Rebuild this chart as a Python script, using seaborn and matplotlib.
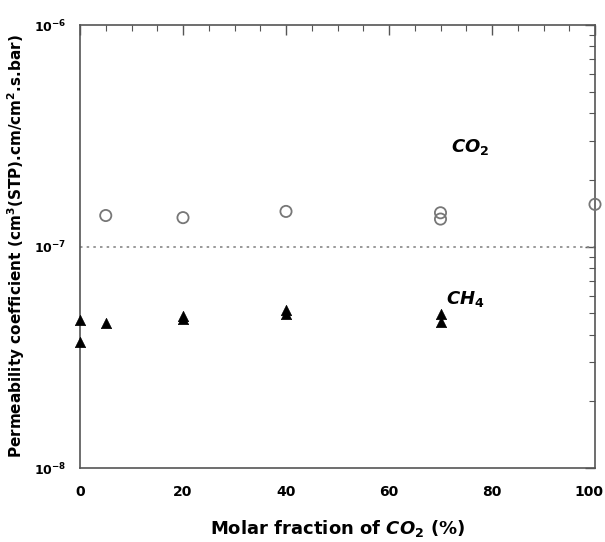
import numpy as np
import pandas as pd
import matplotlib
matplotlib.use("Agg")
import matplotlib.pyplot as plt
import matplotlib.transforms as mtrans
import seaborn as sns
from matplotlib.ticker import LogLocator, MultipleLocator, NullFormatter

co2_x = [5, 20, 40, 70, 70, 100]
co2_y = [1.38e-7, 1.35e-7, 1.44e-7, 1.42e-7, 1.33e-7, 1.55e-7]
ch4_x = [0, 0, 5, 20, 20, 40, 40, 70, 70]
ch4_y = [4.65e-8, 3.7e-8, 4.5e-8, 4.7e-8, 4.85e-8, 5.15e-8, 4.95e-8, 4.95e-8, 4.55e-8]

sns.set_style("white")
plt.rcParams['font.family'] = ['DejaVu Sans']
plt.rcParams['text.color'] = 'black'
plt.rcParams['axes.labelcolor'] = 'black'

fig = plt.figure(figsize=(6.05, 5.42), dpi=100)
ax = fig.add_axes([80 / 605, 1 - 468 / 542, 515 / 605, 443 / 542])

df_co2 = pd.DataFrame({"x": co2_x, "y": co2_y})
df_ch4 = pd.DataFrame({"x": ch4_x, "y": ch4_y})

sns.scatterplot(data=df_co2, x="x", y="y", ax=ax, marker="o", s=65,
                facecolor="none", edgecolor="#777777", linewidth=1.3, zorder=3,
                clip_on=False)
sns.scatterplot(data=df_ch4, x="x", y="y", ax=ax, marker="^", s=55,
                color="black", edgecolor="black", linewidth=0.5, zorder=3,
                clip_on=False)

ax.set_yscale("log")
ax.set_xlim(0, 100)
ax.set_ylim(1e-8, 1e-6)
ax.axhline(1e-7, color="#888888", linestyle=(0, (1.5, 2.5)), linewidth=1.2, zorder=1)

ax.xaxis.set_major_locator(MultipleLocator(20))
ax.xaxis.set_minor_locator(MultipleLocator(5))
ax.yaxis.set_major_locator(LogLocator(base=10, numticks=5))
ax.yaxis.set_minor_locator(LogLocator(base=10, subs=np.arange(2, 10), numticks=20))
ax.yaxis.set_minor_formatter(NullFormatter())

ax.tick_params(which="both", direction="in", top=True, right=True, colors="#555555",
               labelcolor="black")
ax.tick_params(which="major", length=7, width=1)
ax.tick_params(which="minor", length=4, width=0.8)
ax.tick_params(axis="x", which="major", labelsize=10, pad=12)
ax.tick_params(axis="y", which="major", labelsize=9, pad=10)
for lab in ax.get_xticklabels() + ax.get_yticklabels():
    lab.set_fontweight("bold")

fig.canvas.draw()
for lab in ax.get_xticklabels():
    if lab.get_text() == "100":
        lab.set_transform(lab.get_transform() +
                          mtrans.ScaledTranslation(-6 / 100, 0, fig.dpi_scale_trans))

for s in ax.spines.values():
    s.set_color("#555555")
    s.set_linewidth(1.2)

ax.set_xlabel(r"Molar fraction of $\mathbfit{CO}_\mathbf{2}$ (%)", fontsize=13,
              fontweight="bold", labelpad=14)
ax.set_ylabel(r"Permeability coefficient (cm$^{\mathbf{3}}$(STP).cm/cm$^{\mathbf{2}}$.s.bar)",
              fontsize=11, fontweight="bold", labelpad=5)

ax.text(72, 2.8e-7, r"$\mathbfit{CO}_\mathbf{2}$", fontsize=13, ha="left", va="center")
ax.text(71, 5.8e-8, r"$\mathbfit{CH}_\mathbf{4}$", fontsize=13, ha="left", va="center")

fig.savefig("out.png", dpi=100)
